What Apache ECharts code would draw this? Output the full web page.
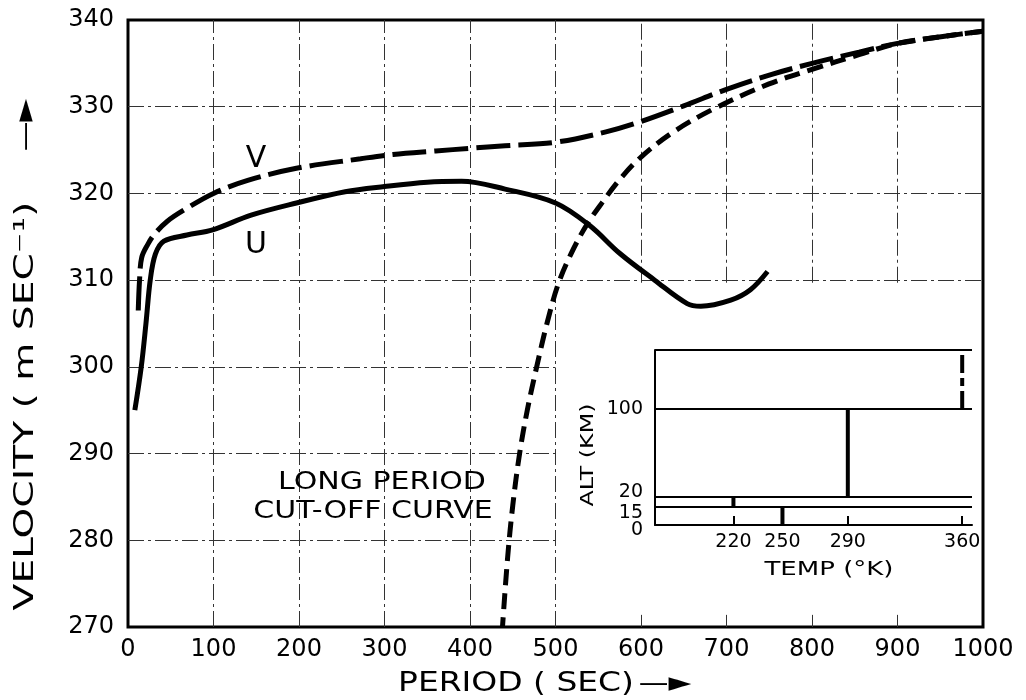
<!DOCTYPE html>
<html><head><meta charset="utf-8">
<script src="https://cdn.jsdelivr.net/npm/echarts@6/dist/echarts.min.js"></script>
<style>html,body{margin:0;padding:0;background:#fff}#c{width:1026px;height:700px}</style>
</head><body><div id="c"></div>
<script>
// ---- main chart data (period in s, velocity in m/s) ----
const uPeriod   = [8, 15.5, 21, 26, 32, 42, 69, 99, 144, 197, 254, 300, 350, 390, 441, 500, 540, 575, 616, 654, 670, 705, 728, 748];
const uVelocity = [295, 300, 305, 310, 313, 314.5, 315.2, 315.8, 317.5, 318.9, 320.2, 320.8, 321.3, 321.4, 320.5, 318.9, 316.3, 313.1, 310, 307.3, 307.0, 307.7, 308.9, 311.0];
const vPeriod   = [12, 13.5, 16, 23, 31, 46, 69, 100, 140, 197, 272, 310, 360, 400, 441, 500, 559, 600, 650, 700, 752, 800, 855, 900, 953, 1000];
const vVelocity = [306.5, 310, 312.6, 314.1, 315.3, 316.8, 318.3, 320, 321.5, 322.9, 324, 324.5, 324.9, 325.2, 325.5, 325.9, 327.1, 328.3, 330.1, 332, 333.7, 335, 336.3, 337.3, 338.1, 338.7];
const cutPeriod   = [438, 444, 450, 458, 467, 478, 490, 503, 518, 536, 555, 575, 600, 638, 686, 749, 800, 855, 900, 953, 1000];
const cutVelocity = [270, 278, 284, 290, 295, 300, 305, 309.5, 313, 316.3, 319, 321.6, 324.2, 327.1, 329.8, 332.6, 334.3, 336, 337.3, 338.1, 338.7];

// grid lines of the main plot; the original leaves the lower-right part blank
const periodGrid   = [100, 200, 300, 400, 500, 600, 700, 800, 900];
const velocityGrid = [280, 290, 300, 310, 320, 330];
const blankArea    = [500, 271.4, 1000, 309.7]; // [x0, y0, x1, y1]

// ---- inset data (temperature profile) ----
const layerTemp   = [250, 220, 290, 360];
const layerBottom = [0, 15, 20, 100];
const layerTop    = [15, 20, 100, 160];
const tempTicks   = [220, 250, 290, 360];

const FONT = 'DejaVu Sans';
const zip = (a, b) => a.map((v, i) => [v, b[i]]);

const gridSegments = [];
periodGrid.forEach(x => {
  if (x > blankArea[0]) {
    gridSegments.push([{coord: [x, 270]}, {coord: [x, blankArea[1]]}]);
    gridSegments.push([{coord: [x, blankArea[3]]}, {coord: [x, 340]}]);
  } else {
    gridSegments.push([{coord: [x, 270]}, {coord: [x, 340]}]);
  }
});
velocityGrid.forEach(y => {
  gridSegments.push([{coord: [0, y]}, {coord: [y < blankArea[3] ? blankArea[0] : 1000, y]}]);
});

// inset layout, one grid per altitude band (bottom to top)
const insetTops    = [507, 497, 409, 350];
const insetHeights = [18, 10, 88, 59];
const insetYLabels = [[0], [15], [20, 100], []];
const insetPad     = [[10, 0, 0, 0], [12, 0, 0, 0], [0, 0, 0, 0], [0, 0, 0, 0]];

const grids = [{left: 128, top: 20, right: 43, bottom: 73, show: true, borderColor: '#000', borderWidth: 3}];
const xAxes = [{
  type: 'value', gridIndex: 0, min: 0, max: 1000, interval: 100,
  axisLine: {show: false}, axisTick: {show: false},
  axisLabel: {fontSize: 24, fontFamily: FONT, color: '#000', margin: 11, formatter: v => String(v)},
  splitLine: {show: false}
}];
const yAxes = [{
  type: 'value', gridIndex: 0, min: 270, max: 340, interval: 10,
  axisLine: {show: false}, axisTick: {show: false},
  axisLabel: {fontSize: 24, fontFamily: FONT, color: '#000', margin: 14},
  splitLine: {show: false}
}];
const series = [
  {type: 'line', z: 1, silent: true, data: [[0, 270]], showSymbol: false, lineStyle: {opacity: 0},
   markLine: {silent: true, animation: false, symbol: ['none', 'none'], label: {show: false},
     lineStyle: {color: '#333', width: 1, type: [16, 4, 3, 4]},
     emphasis: {disabled: true}, data: gridSegments}},
  {name: 'U', type: 'line', data: zip(uPeriod, uVelocity), smooth: 0.35, showSymbol: false, z: 10,
   lineStyle: {color: '#000', width: 5}},
  {name: 'V', type: 'line', data: zip(vPeriod, vVelocity), smooth: 0.35, showSymbol: false, z: 10,
   lineStyle: {color: '#000', width: 5, type: [34, 8]}},
  {name: 'cut-off', type: 'line', data: zip(cutPeriod, cutVelocity), smooth: 0.35, showSymbol: false, z: 10,
   lineStyle: {color: '#000', width: 5, type: [16, 8], dashOffset: 6}}
];

for (let i = 0; i < 4; i++) {
  const gi = i + 1;
  grids.push({left: 655, right: 54, top: insetTops[i], height: insetHeights[i]});
  xAxes.push({
    type: 'value', gridIndex: gi, min: 172, max: 366, show: i === 0, z: 20,
    axisLine: {show: true, lineStyle: {color: '#000', width: 2}},
    axisTick: {show: true, inside: true, length: 9, customValues: tempTicks, lineStyle: {color: '#000', width: 2}},
    axisLabel: {show: true, customValues: tempTicks, fontSize: 19, fontFamily: FONT, color: '#000', margin: 8},
    splitLine: {show: false}
  });
  yAxes.push({
    type: 'value', gridIndex: gi, min: layerBottom[i], max: layerTop[i], interval: layerTop[i] - layerBottom[i], z: 20,
    axisLine: {show: true, lineStyle: {color: '#000', width: 2}},
    axisTick: {show: false},
    axisLabel: {show: insetYLabels[i].length > 0, customValues: insetYLabels[i], showMinLabel: true, showMaxLabel: true,
      fontSize: 19, fontFamily: FONT, color: '#000', margin: 12, verticalAlign: 'middle', padding: insetPad[i],
      formatter: v => (i === 2 && v === 20) ? '{lo|20}' : String(v),
      rich: {lo: {fontSize: 19, fontFamily: FONT, color: '#000', padding: [0, 0, 10, 0]}}},
    splitLine: {show: true, lineStyle: {color: '#000', width: 2, type: 'solid'}}
  });
  series.push({
    type: 'line', xAxisIndex: gi, yAxisIndex: gi, z: 21, showSymbol: false,
    data: [[layerTemp[i], layerBottom[i]], [layerTemp[i], layerTop[i]]],
    lineStyle: {color: '#000', width: 4, type: i === 3 ? [18, 5, 8, 5] : 'solid'}
  });
}

const txt = (text, x, y, size, opts = {}) => Object.assign({
  type: 'text', x, y, z: 50,
  style: {text, fontSize: size, fontFamily: FONT, fill: '#000', align: 'center', verticalAlign: 'middle'}
}, opts);

const chart = echarts.init(document.getElementById('c'), null, {renderer: 'canvas'});
chart.setOption({
  animation: false,
  backgroundColor: '#fff',
  grid: grids, xAxis: xAxes, yAxis: yAxes, series,
  graphic: [
    txt('VELOCITY ( m SEC⁻¹)', 26, 406, 27, {rotation: Math.PI / 2, scaleX: 1.45}),
    txt('—►', 26, 125, 27, {rotation: Math.PI / 2, scaleX: 1.1}),
    txt('PERIOD ( SEC)', 516, 684, 27, {scaleX: 1.22}),
    txt('—►', 665, 684, 27, {scaleX: 1.1}),
    txt('V', 256, 159, 30),
    txt('U', 256, 245, 30),
    txt('LONG PERIOD', 382, 482, 25, {scaleX: 1.2}),
    txt('CUT-OFF CURVE', 373, 511, 25, {scaleX: 1.2}),
    txt('ALT (KM)', 589, 455, 17, {rotation: Math.PI / 2, scaleX: 1.4}),
    txt('TEMP (°K)', 829, 570, 20, {scaleX: 1.3})
  ]
});
</script></body></html>
